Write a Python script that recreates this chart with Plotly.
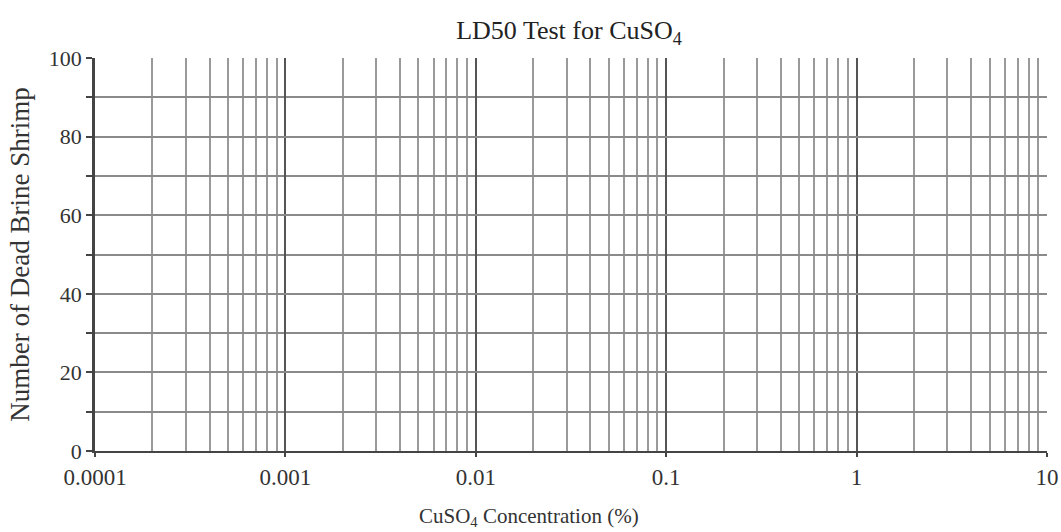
import plotly.graph_objects as go

x_major = [0.0001, 0.001, 0.01, 0.1, 1, 10]
x_labels = ["0.0001", "0.001", "0.01", "0.1", "1", "10"]
x_minor = [m * d for d in [0.0001, 0.001, 0.01, 0.1, 1] for m in range(2, 10)]
y_major = [0, 20, 40, 60, 80, 100]
y_minor = [10, 30, 50, 70, 90]

font_fam = "Liberation Serif, Times New Roman, serif"
W, H = 1061, 532
L, R, T, B = 95, 14, 58, 81

fig = go.Figure()
fig.add_trace(go.Scatter(x=[], y=[], mode="markers", showlegend=False))

fig.update_layout(
    width=W, height=H,
    margin=dict(l=L, r=R, t=T, b=B, autoexpand=False),
    paper_bgcolor="white", plot_bgcolor="white",
    font=dict(family=font_fam, size=20, color="#333"),
    title=dict(text="LD50 Test for CuSO<sub>4</sub>", x=569 / W, xanchor="center",
               y=1 - 30 / H, yanchor="middle", font=dict(family=font_fam, size=26, color="#222")),
    showlegend=False,
    xaxis=dict(
        type="log", range=[-4, 1],
        tickmode="array", tickvals=x_major, ticktext=x_labels,
        showgrid=True, gridcolor="#555", gridwidth=2.2,
        ticks="outside", ticklen=4, tickcolor="#444", tickwidth=2,
        showline=True, linecolor="#444", linewidth=2, mirror=False,
        zeroline=False, automargin=False,
        tickfont=dict(family=font_fam, size=23, color="#333"),
        minor=dict(tickmode="array", tickvals=x_minor, showgrid=True,
                   gridcolor="#9a9a9a", gridwidth=1.6, ticks=""),
    ),
    yaxis=dict(
        range=[0, 100],
        tickmode="array", tickvals=y_major,
        showgrid=True, gridcolor="#8a8a8a", gridwidth=1.6,
        ticks="outside", ticklen=6, tickcolor="#444", tickwidth=1.5,
        showline=True, linecolor="#444", linewidth=2.5,
        zeroline=False, automargin=False,
        tickfont=dict(family=font_fam, size=22, color="#333"),
        title=dict(text="Number of Dead Brine Shrimp", standoff=12,
                   font=dict(family=font_fam, size=27, color="#333")),
        minor=dict(tickmode="array", tickvals=y_minor, showgrid=True,
                   gridcolor="#8a8a8a", gridwidth=1.6, ticks="outside",
                   ticklen=6, tickcolor="#444"),
    ),
    annotations=[dict(
        text="CuSO<sub>4</sub> Concentration (%)", xref="paper", yref="paper",
        x=(529 - L) / (W - L - R), y=-(517 - (H - B)) / (H - T - B),
        xanchor="center", yanchor="middle", showarrow=False,
        font=dict(family=font_fam, size=21, color="#333"),
    )],
)

fig.write_html(
    "out.html",
    config={"displayModeBar": False},
    post_script="document.body.style.margin='0';document.body.style.overflow='hidden';",
)
